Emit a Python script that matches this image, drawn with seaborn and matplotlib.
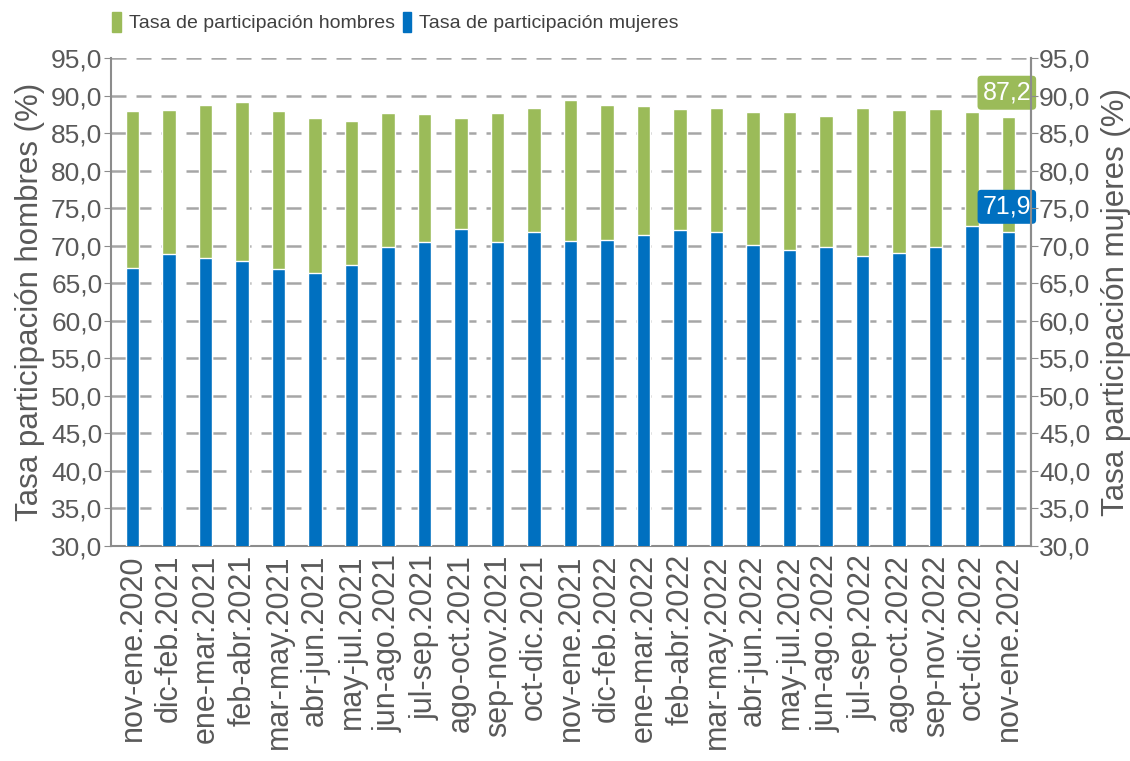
import numpy as np
import pandas as pd
import matplotlib
matplotlib.use("Agg")
import matplotlib.pyplot as plt
from matplotlib.patches import Patch
import seaborn as sns

# periods (rolling quarters)
periods = ["nov-ene.2020", "dic-feb.2021", "ene-mar.2021", "feb-abr.2021",
           "mar-may.2021", "abr-jun.2021", "may-jul.2021", "jun-ago.2021",
           "jul-sep.2021", "ago-oct.2021", "sep-nov.2021", "oct-dic.2021",
           "nov-ene.2021", "dic-feb.2022", "ene-mar.2022", "feb-abr.2022",
           "mar-may.2022", "abr-jun.2022", "may-jul.2022", "jun-ago.2022",
           "jul-sep.2022", "ago-oct.2022", "sep-nov.2022", "oct-dic.2022",
           "nov-ene.2022"]

# participation rates (%)
hombres = [88.0, 88.1, 88.7, 89.2, 87.9, 87.1, 86.7, 87.7, 87.6, 87.1,
           87.7, 88.3, 89.4, 88.7, 88.6, 88.2, 88.4, 87.8, 87.8, 87.3,
           88.3, 88.1, 88.2, 87.8, 87.2]
mujeres = [67.1, 68.9, 68.4, 68.0, 66.9, 66.4, 67.5, 69.8, 70.5, 72.3,
           70.5, 71.8, 70.6, 70.8, 71.4, 72.1, 71.9, 70.1, 69.4, 69.9,
           68.7, 69.0, 69.9, 72.6, 71.9]

yticks = np.arange(30, 96, 5)

GREEN = "#9BBB59"
BLUE = "#0070C0"
GREY = "#595959"

sns.set_style("white")
plt.rcParams['font.family'] = ['Liberation Sans', 'DejaVu Sans']

df = pd.DataFrame({"periodo": periods, "hombres": hombres, "mujeres": mujeres})

fig = plt.figure(figsize=(11.3, 7.61), dpi=100)
ax = fig.add_axes([0.098, 0.2825, 0.814, 0.641])

# men behind, women in front (overlapping, not stacked)
sns.barplot(data=df, x="periodo", y="hombres", color=GREEN, width=0.37,
            saturation=1, ax=ax, zorder=2)
sns.barplot(data=df, x="periodo", y="mujeres", color=BLUE, width=0.37,
            saturation=1, ax=ax, zorder=3)

ylabels = [f"{v:.1f}".replace(".", ",") for v in yticks]

ax.set_ylim(30, 95)
ax.set_xlim(-0.6, 24.6)
ax.set_yticks(yticks)
ax.set_yticklabels(ylabels, fontsize=19, color=GREY)
ax.set_xticks(range(len(periods)))
ax.set_xticklabels(periods, rotation=90, fontsize=22, color=GREY)
ax.set_xlabel("")
ax.set_ylabel("Tasa participación hombres (%)", fontsize=22.5, color=GREY, labelpad=4)

for y in yticks[1:]:
    ax.axhline(y, color="#A6A6A6", lw=1.8, ls=(0, (6, 4)), zorder=1)

ax.spines["top"].set_visible(False)
for side in ["left", "right", "bottom"]:
    ax.spines[side].set_color("#8C8C8C")
    ax.spines[side].set_linewidth(1.5)
ax.tick_params(axis="both", length=5, color="#8C8C8C", direction="out", pad=1)

ax2 = ax.twinx()
ax2.set_ylim(30, 95)
ax2.set_yticks(yticks)
ax2.set_yticklabels(ylabels, fontsize=19, color=GREY)
ax2.set_ylabel("Tasa participación mujeres (%)", fontsize=22.5, color=GREY, labelpad=8)
ax2.tick_params(axis="y", length=5, color="#8C8C8C", direction="out", pad=1)
for side in ["top", "left", "bottom"]:
    ax2.spines[side].set_visible(False)
ax2.spines["right"].set_color("#8C8C8C")
ax2.spines["right"].set_linewidth(1.5)

# value labels for the last period
last = len(periods) - 1
ax.text(last - 0.05, 90.4, f"{hombres[-1]:.1f}".replace(".", ","), ha="center", va="center",
        fontsize=18, color="white", zorder=5,
        bbox=dict(boxstyle="round,pad=0.2,rounding_size=0.15", fc=GREEN, ec="none"))
ax.text(last - 0.05, 75.2, f"{mujeres[-1]:.1f}".replace(".", ","), ha="center", va="center",
        fontsize=18, color="white", zorder=5,
        bbox=dict(boxstyle="round,pad=0.2,rounding_size=0.15", fc=BLUE, ec="none"))

handles = [Patch(color=GREEN, label="Tasa de participación hombres"),
           Patch(color=BLUE, label="Tasa de participación mujeres")]
fig.legend(handles=handles, loc="center", bbox_to_anchor=(0.35, 0.971), ncol=2,
           frameon=False, prop={"size": 14},
           handlelength=0.45, handleheight=1.2, handletextpad=0.4, columnspacing=0.4,
           labelcolor="#404040")

fig.savefig("out.png", dpi=100)
